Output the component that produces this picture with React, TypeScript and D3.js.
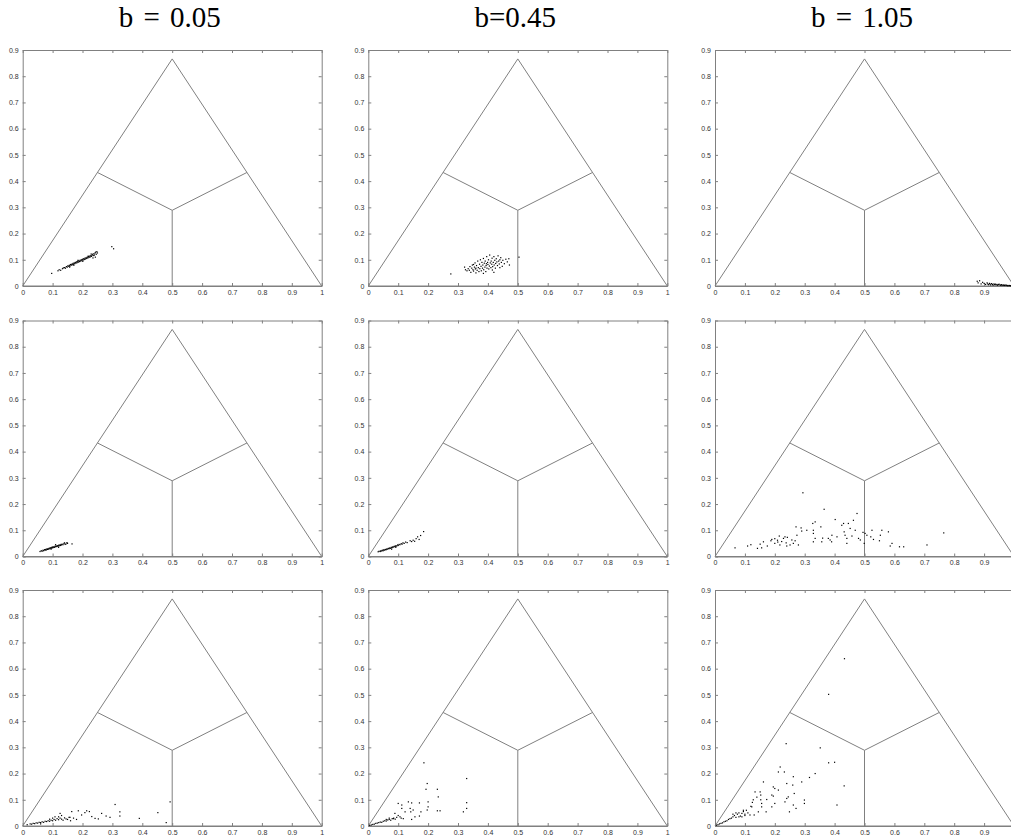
import { useEffect, useRef } from 'react';
import * as d3 from 'd3';

// column titles and axis ticks
const titles = ['b = 0.05', 'b=0.45', 'b = 1.05'];
const xTicks = [0, 0.1, 0.2, 0.3, 0.4, 0.5, 0.6, 0.7, 0.8, 0.9, 1];
const yTicks = [0, 0.1, 0.2, 0.3, 0.4, 0.5, 0.6, 0.7, 0.8, 0.9];

// simplex outline and the three region boundaries (triangle coordinates)
const triangle = [[0, 0], [1, 0], [0.5, 0.866], [0, 0]];
const centroid = [0.5, 0.2887];
const midpoints = [[0.25, 0.433], [0.75, 0.433], [0.5, 0]];

// row 1
const r1b005 = [
  [0.097, 0.048], [0.118, 0.058], [0.122, 0.062], [0.127, 0.060], [0.133, 0.066], [0.136, 0.069],
  [0.140, 0.070], [0.143, 0.068], [0.146, 0.074], [0.149, 0.072], [0.151, 0.077], [0.154, 0.075],
  [0.156, 0.079], [0.158, 0.076], [0.160, 0.082], [0.162, 0.079], [0.164, 0.083], [0.166, 0.081],
  [0.168, 0.086], [0.170, 0.083], [0.172, 0.088], [0.174, 0.085], [0.176, 0.090], [0.178, 0.087],
  [0.180, 0.092], [0.182, 0.089], [0.184, 0.094], [0.186, 0.091], [0.188, 0.096], [0.190, 0.093],
  [0.192, 0.098], [0.194, 0.095], [0.196, 0.100], [0.198, 0.097], [0.200, 0.102], [0.202, 0.099],
  [0.204, 0.104], [0.206, 0.101], [0.208, 0.106], [0.210, 0.103], [0.212, 0.108], [0.214, 0.105],
  [0.216, 0.110], [0.218, 0.107], [0.220, 0.112], [0.222, 0.109], [0.224, 0.114], [0.226, 0.111],
  [0.228, 0.116], [0.230, 0.113], [0.232, 0.118], [0.234, 0.121], [0.236, 0.116], [0.238, 0.123],
  [0.240, 0.118], [0.242, 0.126], [0.244, 0.129], [0.246, 0.121], [0.248, 0.131], [0.250, 0.126],
  [0.243, 0.110], [0.235, 0.107], [0.298, 0.150], [0.304, 0.142], [0.171, 0.079], [0.185, 0.098],
  [0.201, 0.094], [0.219, 0.114], [0.157, 0.072], [0.229, 0.122],
];
const r1b045 = [
  [0.276, 0.046], [0.322, 0.072], [0.325, 0.062], [0.330, 0.058], [0.334, 0.066], [0.338, 0.060],
  [0.340, 0.074], [0.343, 0.052], [0.346, 0.068], [0.348, 0.080], [0.350, 0.062], [0.352, 0.057],
  [0.355, 0.072], [0.357, 0.088], [0.358, 0.065], [0.360, 0.050], [0.362, 0.078], [0.364, 0.060],
  [0.366, 0.095], [0.368, 0.070], [0.370, 0.055], [0.372, 0.083], [0.373, 0.066], [0.375, 0.100],
  [0.377, 0.075], [0.378, 0.058], [0.380, 0.090], [0.382, 0.068], [0.383, 0.080], [0.385, 0.105],
  [0.386, 0.062], [0.388, 0.087], [0.390, 0.072], [0.391, 0.095], [0.393, 0.055], [0.394, 0.078],
  [0.396, 0.112], [0.397, 0.068], [0.399, 0.090], [0.400, 0.082], [0.402, 0.100], [0.403, 0.065],
  [0.405, 0.076], [0.406, 0.118], [0.408, 0.088], [0.410, 0.070], [0.411, 0.095], [0.413, 0.083],
  [0.414, 0.106], [0.416, 0.074], [0.418, 0.090], [0.420, 0.112], [0.421, 0.080], [0.423, 0.098],
  [0.425, 0.068], [0.426, 0.086], [0.428, 0.104], [0.430, 0.092], [0.432, 0.078], [0.434, 0.115],
  [0.436, 0.095], [0.438, 0.084], [0.440, 0.100], [0.443, 0.108], [0.445, 0.090], [0.448, 0.075],
  [0.450, 0.098], [0.455, 0.085], [0.460, 0.102], [0.465, 0.092], [0.472, 0.080], [0.470, 0.104],
  [0.504, 0.110], [0.360, 0.068], [0.395, 0.085], [0.415, 0.061], [0.385, 0.048], [0.440, 0.070],
  [0.352, 0.082], [0.420, 0.052],
];
const r1b105 = [
  [0.877, 0.018], [0.880, 0.012], [0.885, 0.020], [0.890, 0.008], [0.895, 0.014], [0.900, 0.010],
  [0.905, 0.006], [0.910, 0.012], [0.912, 0.008], [0.915, 0.005], [0.918, 0.010], [0.920, 0.007],
  [0.922, 0.004], [0.925, 0.009], [0.928, 0.006], [0.930, 0.003], [0.933, 0.008], [0.935, 0.005],
  [0.938, 0.007], [0.940, 0.004], [0.943, 0.006], [0.945, 0.003], [0.948, 0.005], [0.950, 0.007],
  [0.953, 0.004], [0.955, 0.003], [0.958, 0.005], [0.960, 0.002], [0.963, 0.004], [0.965, 0.003],
  [0.968, 0.002], [0.970, 0.004], [0.973, 0.002], [0.975, 0.003], [0.978, 0.001], [0.980, 0.002],
  [0.983, 0.001], [0.985, 0.002], [0.988, 0.001], [0.990, 0.001],
];

// row 2
const r2b005 = [
  [0.058, 0.019], [0.062, 0.022], [0.065, 0.020], [0.068, 0.024], [0.070, 0.022], [0.073, 0.026],
  [0.075, 0.024], [0.077, 0.027], [0.079, 0.025], [0.081, 0.029], [0.083, 0.027], [0.085, 0.030],
  [0.087, 0.028], [0.089, 0.032], [0.091, 0.030], [0.093, 0.033], [0.095, 0.031], [0.097, 0.035],
  [0.099, 0.033], [0.100, 0.036], [0.102, 0.034], [0.104, 0.037], [0.106, 0.035], [0.108, 0.039],
  [0.110, 0.037], [0.112, 0.040], [0.114, 0.038], [0.116, 0.041], [0.118, 0.039], [0.120, 0.043],
  [0.122, 0.041], [0.124, 0.044], [0.126, 0.042], [0.128, 0.046], [0.130, 0.044], [0.132, 0.047],
  [0.135, 0.045], [0.138, 0.050], [0.140, 0.052], [0.142, 0.046], [0.145, 0.048], [0.148, 0.053],
  [0.150, 0.050], [0.165, 0.048], [0.110, 0.045], [0.095, 0.028], [0.120, 0.035],
];
const r2b045 = [
  [0.033, 0.018], [0.036, 0.020], [0.040, 0.019], [0.042, 0.022], [0.045, 0.021], [0.047, 0.024],
  [0.050, 0.022], [0.052, 0.026], [0.055, 0.024], [0.057, 0.027], [0.060, 0.026], [0.062, 0.029],
  [0.065, 0.028], [0.067, 0.031], [0.070, 0.030], [0.072, 0.033], [0.075, 0.031], [0.077, 0.035],
  [0.080, 0.034], [0.082, 0.037], [0.085, 0.036], [0.087, 0.039], [0.090, 0.038], [0.092, 0.041],
  [0.095, 0.040], [0.098, 0.044], [0.100, 0.042], [0.103, 0.046], [0.106, 0.045], [0.110, 0.049],
  [0.113, 0.047], [0.116, 0.052], [0.120, 0.050], [0.125, 0.055], [0.130, 0.053], [0.140, 0.060],
  [0.145, 0.057], [0.150, 0.062], [0.155, 0.058], [0.160, 0.068], [0.165, 0.075], [0.170, 0.065],
  [0.175, 0.080], [0.185, 0.095], [0.078, 0.028], [0.092, 0.035],
];
const r2b105 = [
  [0.067, 0.033], [0.109, 0.040], [0.142, 0.031], [0.151, 0.047], [0.162, 0.056], [0.156, 0.033],
  [0.187, 0.060], [0.190, 0.065], [0.200, 0.050], [0.209, 0.062], [0.215, 0.078], [0.217, 0.044],
  [0.223, 0.057], [0.229, 0.069], [0.234, 0.075], [0.238, 0.052], [0.242, 0.073], [0.251, 0.044],
  [0.257, 0.063], [0.262, 0.050], [0.274, 0.081], [0.279, 0.044], [0.271, 0.113], [0.288, 0.109],
  [0.290, 0.097], [0.294, 0.243], [0.307, 0.100], [0.327, 0.126], [0.335, 0.132], [0.329, 0.100],
  [0.329, 0.088], [0.335, 0.069], [0.329, 0.056], [0.354, 0.113], [0.365, 0.180], [0.357, 0.056],
  [0.379, 0.069], [0.385, 0.063], [0.391, 0.081], [0.402, 0.141], [0.408, 0.075], [0.424, 0.119],
  [0.430, 0.126], [0.432, 0.094], [0.435, 0.081], [0.441, 0.069], [0.441, 0.050], [0.446, 0.126],
  [0.452, 0.107], [0.458, 0.078], [0.463, 0.138], [0.469, 0.100], [0.475, 0.164], [0.480, 0.069],
  [0.486, 0.063], [0.495, 0.092], [0.502, 0.088], [0.499, 0.050], [0.508, 0.081], [0.521, 0.075],
  [0.525, 0.100], [0.530, 0.065], [0.550, 0.060], [0.553, 0.081], [0.558, 0.100], [0.580, 0.094],
  [0.586, 0.040], [0.592, 0.050], [0.617, 0.037], [0.631, 0.037], [0.709, 0.044], [0.765, 0.090],
  [0.120, 0.045], [0.175, 0.040], [0.200, 0.068], [0.210, 0.055], [0.240, 0.040], [0.268, 0.060],
  [0.360, 0.070], [0.390, 0.056],
];

// row 3
const r3b005 = [
  [0.015, 0.005], [0.025, 0.008], [0.030, 0.007], [0.035, 0.010], [0.040, 0.009], [0.045, 0.012],
  [0.050, 0.011], [0.055, 0.014], [0.060, 0.013], [0.065, 0.016], [0.070, 0.014], [0.075, 0.018],
  [0.080, 0.017], [0.085, 0.020], [0.090, 0.018], [0.095, 0.022], [0.100, 0.020], [0.105, 0.025],
  [0.110, 0.022], [0.115, 0.028], [0.120, 0.024], [0.125, 0.030], [0.130, 0.026], [0.135, 0.022],
  [0.140, 0.031], [0.145, 0.027], [0.150, 0.025], [0.155, 0.033], [0.160, 0.020], [0.170, 0.030],
  [0.180, 0.025], [0.100, 0.030], [0.090, 0.026], [0.120, 0.035], [0.130, 0.040], [0.060, 0.008],
  [0.108, 0.035], [0.125, 0.048], [0.158, 0.033], [0.164, 0.055], [0.186, 0.058], [0.197, 0.042],
  [0.208, 0.051], [0.214, 0.058], [0.223, 0.055], [0.231, 0.036], [0.242, 0.029], [0.253, 0.027],
  [0.264, 0.048], [0.279, 0.038], [0.292, 0.033], [0.309, 0.082], [0.325, 0.054], [0.325, 0.038],
  [0.390, 0.029], [0.452, 0.051], [0.480, 0.013], [0.493, 0.092],
];
const r3b045 = [
  [0.005, 0.002], [0.010, 0.004], [0.015, 0.006], [0.020, 0.007], [0.025, 0.010], [0.030, 0.011],
  [0.035, 0.013], [0.040, 0.015], [0.045, 0.014], [0.050, 0.018], [0.055, 0.020], [0.060, 0.019],
  [0.065, 0.023], [0.070, 0.025], [0.075, 0.022], [0.080, 0.028], [0.085, 0.030], [0.090, 0.026],
  [0.095, 0.033], [0.060, 0.025], [0.070, 0.030], [0.100, 0.040], [0.110, 0.030],
  [0.186, 0.241], [0.329, 0.181], [0.197, 0.162], [0.193, 0.140], [0.231, 0.140], [0.234, 0.111],
  [0.200, 0.092], [0.200, 0.073], [0.197, 0.061], [0.231, 0.058], [0.240, 0.058], [0.329, 0.089],
  [0.329, 0.067], [0.318, 0.054], [0.100, 0.086], [0.112, 0.080], [0.134, 0.092], [0.145, 0.088],
  [0.140, 0.067], [0.142, 0.054], [0.150, 0.061], [0.156, 0.035], [0.145, 0.025], [0.171, 0.038],
  [0.171, 0.088], [0.176, 0.054], [0.123, 0.054], [0.106, 0.035], [0.089, 0.048], [0.084, 0.028],
  [0.117, 0.028], [0.112, 0.067],
];
const r3b105 = [
  [0.005, 0.003], [0.010, 0.005], [0.015, 0.008], [0.020, 0.010], [0.025, 0.012], [0.030, 0.016],
  [0.035, 0.018], [0.040, 0.020], [0.045, 0.025], [0.050, 0.028], [0.055, 0.030], [0.060, 0.035],
  [0.065, 0.040], [0.070, 0.033], [0.075, 0.045], [0.080, 0.050], [0.085, 0.038], [0.090, 0.048],
  [0.095, 0.055], [0.100, 0.045], [0.105, 0.060], [0.110, 0.050], [0.060, 0.045], [0.070, 0.050],
  [0.080, 0.035], [0.090, 0.035], [0.100, 0.040], [0.120, 0.075], [0.125, 0.090], [0.095, 0.060],
  [0.433, 0.638], [0.380, 0.502], [0.238, 0.314], [0.352, 0.298], [0.380, 0.241], [0.400, 0.243],
  [0.335, 0.200], [0.316, 0.185], [0.432, 0.153], [0.408, 0.080], [0.290, 0.168], [0.299, 0.099],
  [0.299, 0.086], [0.262, 0.188], [0.260, 0.156], [0.265, 0.124], [0.262, 0.080], [0.271, 0.067],
  [0.245, 0.111], [0.240, 0.105], [0.249, 0.054], [0.234, 0.092], [0.240, 0.162], [0.218, 0.225],
  [0.212, 0.206], [0.212, 0.137], [0.232, 0.206], [0.195, 0.149], [0.200, 0.143], [0.190, 0.118],
  [0.195, 0.114], [0.200, 0.086], [0.190, 0.073], [0.173, 0.101], [0.162, 0.168], [0.151, 0.130],
  [0.153, 0.118], [0.153, 0.100], [0.156, 0.086], [0.156, 0.073], [0.171, 0.054], [0.134, 0.130],
  [0.140, 0.110], [0.128, 0.100], [0.123, 0.073], [0.117, 0.042], [0.131, 0.042], [0.145, 0.054],
];

const panels = [
  [r1b005, r1b045, r1b105],
  [r2b005, r2b045, r2b105],
  [r3b005, r3b045, r3b105],
];

const colX = [22.7, 368.3, 715];
const rowY = [50, 320.5, 590];
const W = 299;
const H = 236;
const pageW = 1011;

function App() {
  const svgRef = useRef(null);

  useEffect(() => {
    const svg = d3.select(svgRef.current);
    svg.selectAll('*').remove();

    const grey = '#808080';

    titles.forEach((t, c) => {
      svg
        .append('text')
        .attr('x', colX[c] + 147)
        .attr('y', 27)
        .attr('text-anchor', 'middle')
        .attr('font-family', '"Liberation Serif", "Times New Roman", serif')
        .attr('font-size', 29)
        .attr('word-spacing', 3)
        .attr('fill', '#000')
        .text(t);
    });

    panels.forEach((row, r) => {
      row.forEach((pts, c) => {
        const x = d3.scaleLinear().domain([0, 1]).range([0, W]);
        const y = d3.scaleLinear().domain([0, 0.9]).range([H, 0]);

        // the last column is cut by the page edge, so its "1" label is not shown
        const xt = xTicks.filter(v => colX[c] + x(v) + 3 < pageW);

        const g = svg.append('g').attr('transform', `translate(${colX[c]},${rowY[r]})`);

        const styleAxis = sel => {
          sel.select('.domain').attr('stroke', grey);
          sel.selectAll('.tick line').attr('stroke', grey);
          sel
            .selectAll('.tick text')
            .attr('fill', '#333')
            .attr('font-family', '"Liberation Sans", Arial, sans-serif')
            .attr('font-size', 7);
        };

        g.append('g')
          .attr('transform', `translate(0,${H})`)
          .call(d3.axisBottom(x).tickValues(xt).tickSizeInner(-3).tickSizeOuter(0).tickPadding(4).tickFormat(d3.format('')))
          .call(styleAxis);
        g.append('g')
          .call(d3.axisTop(x).tickValues(xt).tickSizeInner(-3).tickSizeOuter(0).tickFormat(() => ''))
          .call(styleAxis);
        g.append('g')
          .call(d3.axisLeft(y).tickValues(yTicks).tickSizeInner(-3).tickSizeOuter(0).tickPadding(4).tickFormat(d3.format('')))
          .call(styleAxis);
        g.append('g')
          .attr('transform', `translate(${W},0)`)
          .call(d3.axisRight(y).tickValues(yTicks).tickSizeInner(-3).tickSizeOuter(0).tickFormat(() => ''))
          .call(styleAxis);

        const line = d3
          .line()
          .x(d => x(d[0]))
          .y(d => y(d[1]));

        g.append('path')
          .attr('d', line(triangle))
          .attr('fill', 'none')
          .attr('stroke', grey)
          .attr('stroke-width', 1);

        midpoints.forEach(m => {
          g.append('path')
            .attr('d', line([centroid, m]))
            .attr('fill', 'none')
            .attr('stroke', grey)
            .attr('stroke-width', 1);
        });

        g.selectAll('.pt')
          .data(pts)
          .enter()
          .append('rect')
          .attr('class', 'pt')
          .attr('x', d => x(d[0]) - 0.6)
          .attr('y', d => y(d[1]) - 0.6)
          .attr('width', 1.2)
          .attr('height', 1.2)
          .attr('fill', '#000');
      });
    });
  }, []);

  return (
    <svg
      ref={svgRef}
      width={pageW}
      height={837}
      style={{ position: 'absolute', left: 0, top: 0, background: '#fff' }}
    />
  );
}

export default App;
